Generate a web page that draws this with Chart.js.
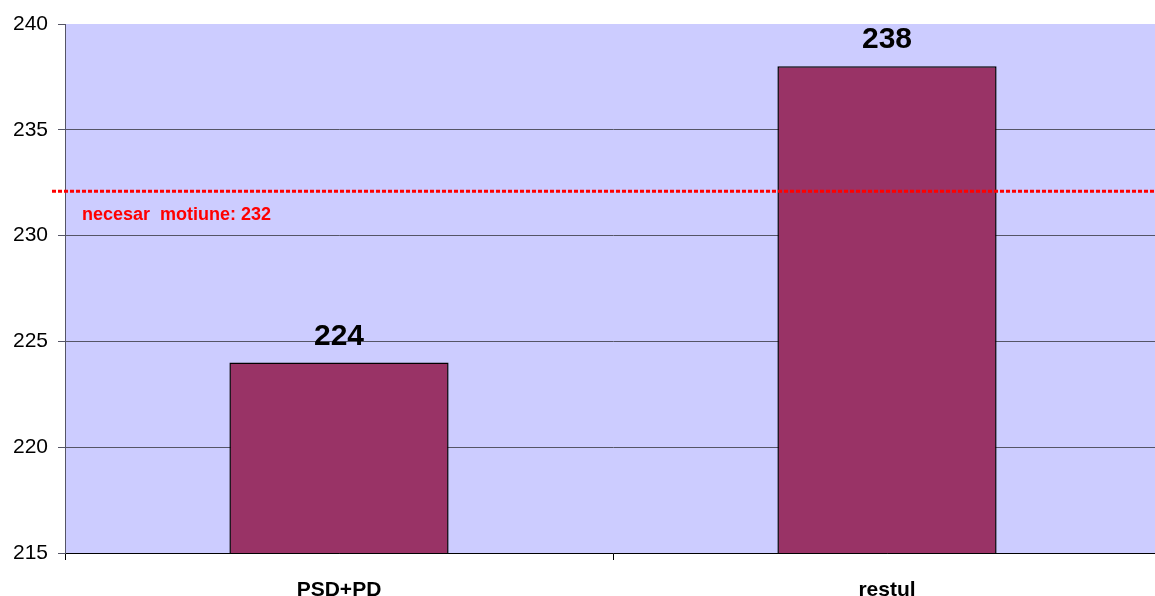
<!DOCTYPE html>
<html>
<head>
<meta charset="utf-8">
<script src="https://cdn.jsdelivr.net/npm/chart.js@4/dist/chart.umd.min.js"></script>
<style>
  html, body { margin: 0; padding: 0; background: #fff; overflow: hidden; }
  #wrap { width: 1155px; height: 596px; overflow: hidden; }
</style>
</head>
<body>
<div id="wrap"><canvas id="c" width="1161" height="596"></canvas></div>
<script>
const categories = ['PSD+PD', 'restul'];
const votes = [224, 238];
const yTicks = [215, 220, 225, 230, 235, 240];
const thresholdLevel = 232.1;
const thresholdLabel = 'necesar  motiune: 232';

const font = '"Liberation Sans", Arial, sans-serif';

// plot background + red threshold line + value labels
const extras = {
  id: 'extras',
  beforeDraw(chart) {
    const { ctx, chartArea: a } = chart;
    ctx.save();
    ctx.fillStyle = '#ccccff';
    ctx.fillRect(a.left, a.top, a.right - a.left, a.bottom - a.top);
    ctx.restore();
  },
  afterDatasetsDraw(chart) {
    const { ctx, chartArea: a, scales } = chart;
    const y = scales.y.getPixelForValue(thresholdLevel);
    ctx.save();
    ctx.strokeStyle = '#ff0000';
    ctx.lineWidth = 3;
    ctx.setLineDash([4, 2]);
    ctx.beginPath();
    ctx.moveTo(a.left - 13, y);
    ctx.lineTo(chart.width, y);
    ctx.stroke();
    ctx.setLineDash([]);
    ctx.fillStyle = '#ff0000';
    ctx.font = 'bold 18px ' + font;
    ctx.textAlign = 'left';
    ctx.textBaseline = 'middle';
    ctx.fillText(thresholdLabel, a.left + 17, y + 24);

    const meta = chart.getDatasetMeta(0);
    ctx.fillStyle = '#000';
    ctx.font = 'bold 30px ' + font;
    ctx.textAlign = 'center';
    ctx.textBaseline = 'alphabetic';
    meta.data.forEach((bar, i) => {
      ctx.fillText(String(votes[i]), bar.x, bar.y - 18);
    });
    ctx.restore();
  }
};

new Chart(document.getElementById('c'), {
  type: 'bar',
  data: {
    labels: categories,
    datasets: [{
      data: votes,
      backgroundColor: '#993366',
      borderColor: '#000',
      borderWidth: 1.5,
      barPercentage: 0.4,
      categoryPercentage: 1
    }]
  },
  options: {
    responsive: false,
    animation: false,
    layout: { padding: { top: 24, right: 0, left: 0, bottom: 0 } },
    plugins: { legend: { display: false }, tooltip: { enabled: false } },
    scales: {
      x: {
        grid: { drawOnChartArea: false, tickLength: 7, color: '#000', offset: true },
        border: { color: '#000', width: 1 },
        ticks: { color: '#000', font: { family: font, size: 21, weight: 'bold' }, padding: 18 },
        afterFit(s) { s.height = 43; }
      },
      y: {
        min: yTicks[0],
        max: yTicks[yTicks.length - 1],
        afterBuildTicks(s) { s.ticks = yTicks.map(v => ({ value: v })); },
        grid: {
          color: c => (c.tick && c.tick.value === 240) ? 'rgba(0,0,0,0)' : '#555566',
          tickColor: '#555566',
          tickLength: 7
        },
        border: { color: '#555566', width: 1 },
        ticks: { color: '#000', font: { family: font, size: 21 }, padding: 10 },
        afterFit(s) { s.width = 65; }
      }
    }
  },
  plugins: [extras]
});
</script>
</body>
</html>
